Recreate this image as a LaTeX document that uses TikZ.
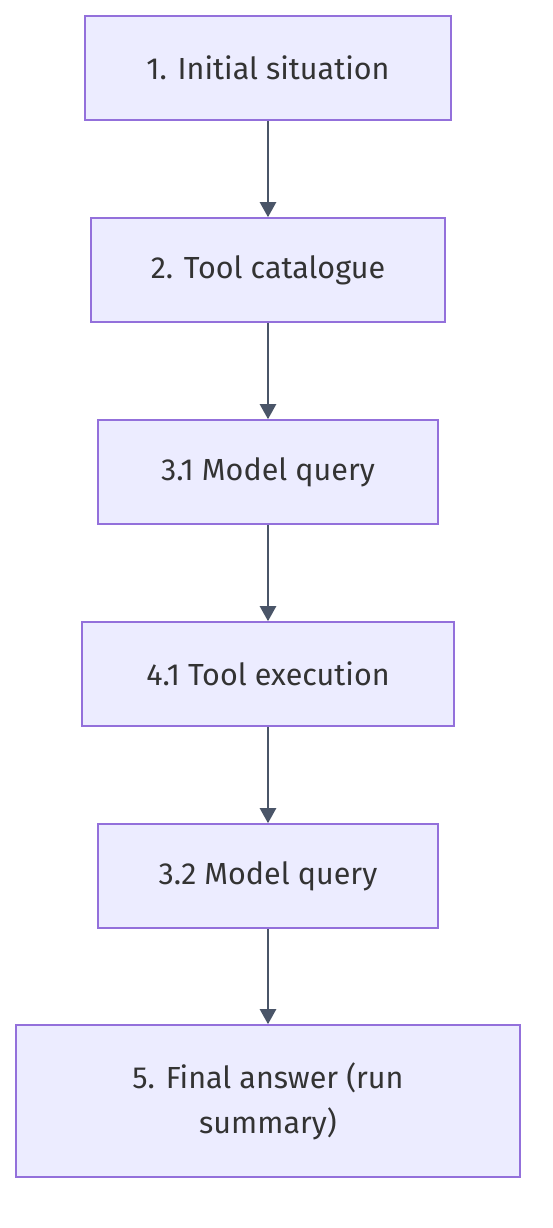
\documentclass[tikz,border=0pt]{standalone}
\usepackage{fontspec}
\setmainfont{Fira Sans}
\usepackage{xcolor}
\usetikzlibrary{arrows.meta}

\definecolor{boxfill}{HTML}{ECECFF}
\definecolor{boxline}{HTML}{9370DB}
\definecolor{flowline}{HTML}{4A5568}
\definecolor{boxtext}{HTML}{333333}

\begin{document}
\begin{tikzpicture}[x=1pt, y=1pt,
    stepbox/.style={draw=boxline, fill=boxfill, line width=1.6pt, text=boxtext,
        minimum height=104pt, inner sep=0pt, font=\fontsize{30.5}{45}\selectfont},
    flow/.style={draw=flowline, line width=2.4pt, -{Triangle[length=15pt, width=16pt]}}]
    \useasboundingbox (0,0) rectangle (552,-1228);

    % Steps
    \node[stepbox, minimum width=366pt] (init) at (268,-68) {1. Initial situation};
    \node[stepbox, minimum width=354pt] (catalogue) at (268,-270) {2. Tool catalogue};
    \node[stepbox, minimum width=340pt] (queryA) at (268,-472) {3.1 Model query};
    \node[stepbox, minimum width=372pt] (exec) at (268,-674) {4.1 Tool execution};
    \node[stepbox, minimum width=340pt] (queryB) at (268,-876) {3.2 Model query};
    \node[stepbox, minimum width=504pt, minimum height=152pt, align=center] (final) at (268,-1101)
        {5. Final answer (run\\summary)};

    % Flow
    \foreach \a/\b in {init/catalogue, catalogue/queryA, queryA/exec, exec/queryB, queryB/final} {
        \draw[flow] (\a.south) -- (\b.north);
    }
\end{tikzpicture}
\end{document}
